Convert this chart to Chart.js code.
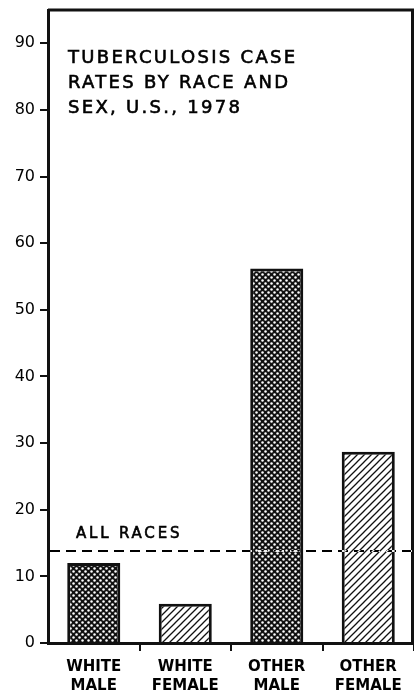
<!DOCTYPE html>
<html>
<head>
<meta charset="utf-8">
<script src="https://cdn.jsdelivr.net/npm/chart.js@4"></script>
<style>
  html, body { margin: 0; padding: 0; background: #fff; }
  #wrap { width: 414px; height: 691px; }
</style>
</head>
<body>
<div id="wrap"><canvas id="tbChart" width="414" height="691"></canvas></div>
<script>
// data (cases per 100,000)
const groups = [["WHITE", "MALE"], ["WHITE", "FEMALE"], ["OTHER", "MALE"], ["OTHER", "FEMALE"]];
const caseRates = [12.0, 5.9, 56.2, 28.7];
const allRacesRate = 13.8;
const yTicks = [0, 10, 20, 30, 40, 50, 60, 70, 80, 90];
const titleLines = ["TUBERCULOSIS CASE", "RATES BY RACE AND", "SEX, U.S., 1978"];

// fill patterns
function dotPattern() {
    let c = document.createElement("canvas");
    c.width = 6; c.height = 6;
    let g = c.getContext("2d");
    g.fillStyle = "#111";
    g.fillRect(0, 0, 6, 6);
    g.fillStyle = "#fff";
    [[1.5, 1.5], [4.5, 4.5]].forEach(p => {
        g.beginPath();
        g.arc(p[0], p[1], 1.25, 0, Math.PI * 2);
        g.fill();
    });
    return g.createPattern(c, "repeat");
}

function hatchPattern() {
    let c = document.createElement("canvas");
    c.width = 7; c.height = 7;
    let g = c.getContext("2d");
    g.fillStyle = "#fff";
    g.fillRect(0, 0, 7, 7);
    g.strokeStyle = "#111";
    g.lineWidth = 1.3;
    g.beginPath();
    g.moveTo(-1, 8); g.lineTo(8, -1);
    g.moveTo(-1, 1); g.lineTo(1, -1);
    g.moveTo(6, 8); g.lineTo(8, 6);
    g.stroke();
    return g.createPattern(c, "repeat");
}

const dots = dotPattern();
const hatch = hatchPattern();

const extras = {
    id: "extras",
    beforeDraw(chart) {
        let ctx = chart.ctx;
        ctx.save();
        ctx.fillStyle = "#fff";
        ctx.fillRect(0, 0, chart.width, chart.height);
        ctx.restore();
    },
    afterDatasetsDraw(chart) {
        let ctx = chart.ctx;
        let area = chart.chartArea;
        let y = chart.scales.y.getPixelForValue(allRacesRate);

        ctx.save();
        // frame top and right
        ctx.strokeStyle = "#111";
        ctx.lineWidth = 3;
        ctx.beginPath();
        ctx.moveTo(area.left, area.top);
        ctx.lineTo(area.right - 1.5, area.top);
        ctx.lineTo(area.right - 1.5, area.bottom);
        ctx.stroke();

        // all races reference line
        ctx.globalCompositeOperation = "difference";
        ctx.strokeStyle = "#fff";
        ctx.lineWidth = 2;
        ctx.setLineDash([10, 6]);
        ctx.beginPath();
        ctx.moveTo(area.left + 2, y);
        ctx.lineTo(area.right, y);
        ctx.stroke();
        ctx.restore();

        ctx.save();
        ctx.fillStyle = "#000";
        ctx.strokeStyle = "#000";
        ctx.lineWidth = 0.6;
        ctx.textBaseline = "alphabetic";
        ctx.font = "15px 'DejaVu Sans'";
        ctx.letterSpacing = "2.8px";
        ctx.fillText("ALL RACES", area.left + 28, y - 13);
        ctx.strokeText("ALL RACES", area.left + 28, y - 13);

        ctx.font = "18px 'DejaVu Sans'";
        ctx.letterSpacing = "2.3px";
        titleLines.forEach((t, i) => {
            ctx.fillText(t, area.left + 20, 63 + i * 25);
            ctx.strokeText(t, area.left + 20, 63 + i * 25);
        });
        ctx.restore();
    }
};

let ctx = document.getElementById("tbChart").getContext("2d");

let tbChart = new Chart(ctx, {
    type: "bar",
    data: {
        labels: groups,
        datasets: [{
            data: caseRates,
            backgroundColor: [dots, hatch, dots, hatch],
            borderColor: "#111",
            borderWidth: 3,
            barPercentage: 0.58,
            categoryPercentage: 1
        }]
    },
    options: {
        responsive: false,
        animation: false,
        layout: { padding: { top: 10, right: 0, bottom: 0, left: 0 } },
        plugins: {
            legend: { display: false },
            tooltip: { enabled: false },
            title: { display: false }
        },
        scales: {
            x: {
                grid: {
                    display: true,
                    offset: true,
                    drawOnChartArea: false,
                    drawTicks: true,
                    tickLength: 8,
                    lineWidth: 2,
                    color: c => (c.index === 0 ? "rgba(0,0,0,0)" : "#111")
                },
                border: { display: true, color: "#111", width: 3 },
                ticks: {
                    color: "#000",
                    padding: 7,
                    maxRotation: 0,
                    autoSkip: false,
                    font: { family: "'DejaVu Sans'", size: 15, weight: "bold", lineHeight: 1.25 }
                },
                afterFit(scale) {
                    scale.height = 48;
                    scale.paddingLeft = 0;
                    scale.paddingRight = 0;
                }
            },
            y: {
                min: 0,
                max: 95,
                afterBuildTicks(scale) {
                    scale.ticks = yTicks.map(v => ({ value: v }));
                },
                grid: {
                    display: true,
                    drawOnChartArea: false,
                    drawTicks: true,
                    tickLength: 8,
                    lineWidth: 2,
                    color: "#111"
                },
                border: { display: true, color: "#111", width: 3 },
                ticks: {
                    color: "#000",
                    padding: 5,
                    font: { family: "'DejaVu Sans'", size: 16 }
                },
                afterFit(scale) {
                    scale.width = 48;
                    scale.paddingTop = 0;
                    scale.paddingBottom = 0;
                }
            }
        }
    },
    plugins: [extras]
});
</script>
</body>
</html>
